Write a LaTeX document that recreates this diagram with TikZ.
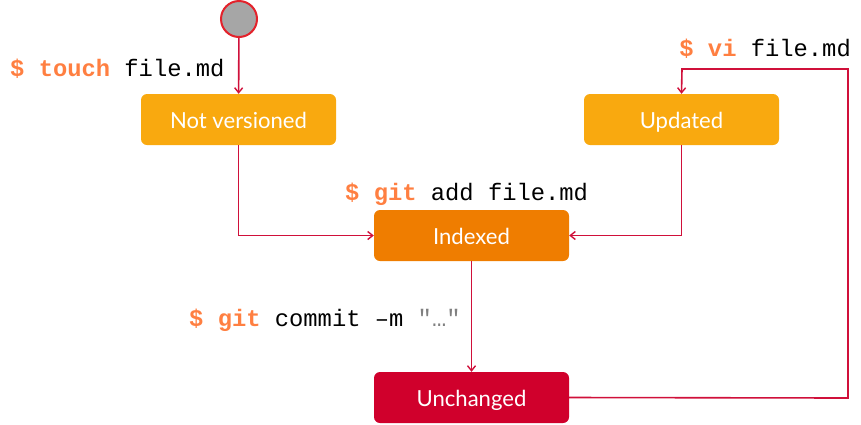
\documentclass[tikz,border=0pt]{standalone}
\usepackage{fontspec}
\setmainfont{Lato}
\setmonofont{Liberation Mono}
\usetikzlibrary{arrows.meta}
\definecolor{ambr}{HTML}{F9A90F}
\definecolor{orng}{HTML}{EF7D00}
\definecolor{crim}{HTML}{D0002C}
\definecolor{wire}{HTML}{D0103A}
\definecolor{cmdc}{HTML}{FF7F41}
\definecolor{ringc}{HTML}{E3222B}
\definecolor{greyc}{HTML}{A6A6A6}
\begin{document}
\begin{tikzpicture}[x=1pt,y=-1pt,
  state/.style={rounded corners=6pt,minimum width=195pt,minimum height=51pt,inner sep=0pt,
    text height=18.5pt,text depth=0.5pt,
    text=white,font=\fontsize{22.1}{24}\selectfont},
  cmd/.style={inner sep=0pt,font=\fontsize{23.8}{26}\ttfamily},
  wireline/.style={draw=wire,line width=1.6pt,-{Straight Barb[length=5pt,width=8pt,line width=1.4pt]}}]
\useasboundingbox (0,0) rectangle (861,424);
\node[circle,draw=ringc,line width=2pt,fill=greyc,minimum size=36pt,inner sep=0pt] (start) at (239,19) {};
\node[state,fill=ambr] (nv) at (238.5,119.5) {Not versioned};
\node[state,fill=ambr] (up) at (681.5,119.5) {Updated};
\node[state,fill=orng] (ix) at (471.5,235.5) {Indexed};
\node[state,fill=crim] (un) at (471.5,397.5) {Unchanged};
\coordinate (c1) at (848,398);
\coordinate (c2) at (848,69);
\coordinate (c3) at (682,69);
\draw[wireline] (start) -- (nv);
\draw[wireline] (nv.south) |- (ix.west);
\draw[wireline] (up.south) |- (ix.east);
\draw[wireline] (ix) -- (un);
\draw[wireline] (un.east) -- (c1) -- (c2) -- (c3) -- (up.north);
\node[cmd,anchor=base west] (l1) at (10,76) {\textcolor{cmdc}{\bfseries\$ touch} file.md};
\node[cmd,anchor=base east] (l2) at (851,56) {\textcolor{cmdc}{\bfseries\$ vi} file.md};
\node[cmd,anchor=base west] (l3) at (345,200) {\textcolor{cmdc}{\bfseries\$ git} add file.md};
\node[cmd,anchor=base west] (l4) at (189,326) {\textcolor{cmdc}{\bfseries\$ git} commit –m \textcolor{gray}{"…"}};
\end{tikzpicture}
\end{document}
